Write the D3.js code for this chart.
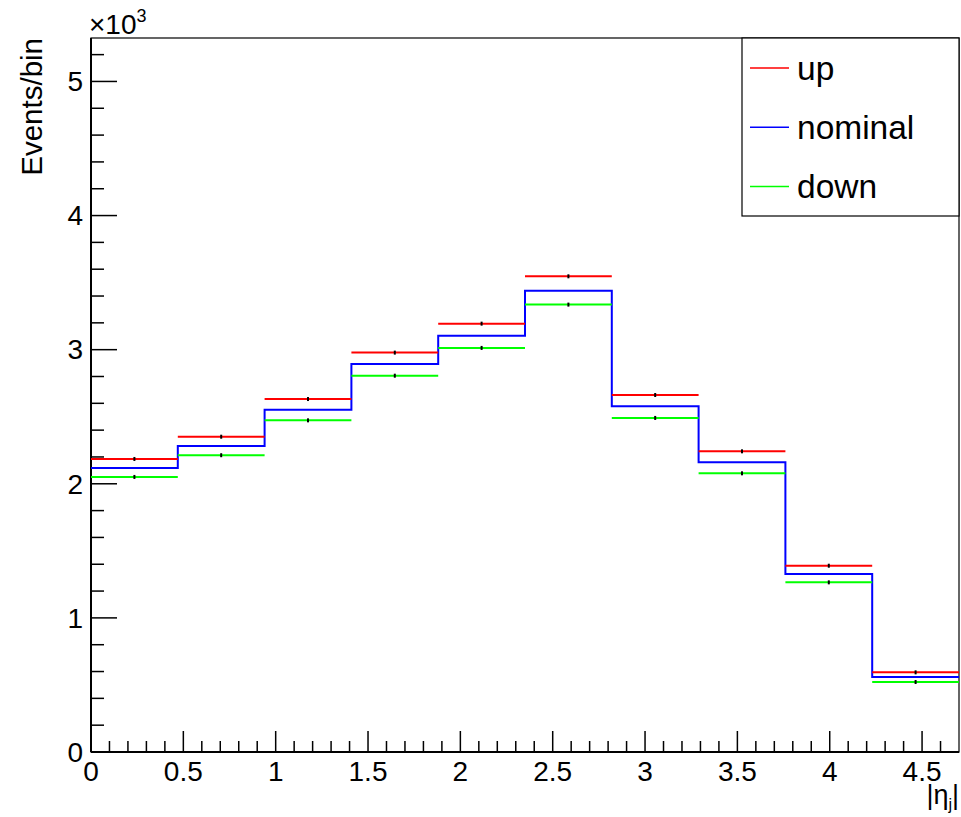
<!DOCTYPE html>
<html>
<head>
<meta charset="utf-8">
<script src="https://cdn.jsdelivr.net/npm/d3@7"></script>
<style>
  body { margin: 0; background: #fff; }
  svg { display: block; font-family: "Liberation Sans", Arial, Helvetica, sans-serif; }
</style>
</head>
<body>
<div id="graf"></div>
<script>
// bordes de los bins en |eta_j|
const binEdges = [0, 0.47, 0.94, 1.41, 1.88, 2.35, 2.82, 3.29, 3.76, 4.23, 4.7];
// eventos por bin
const upValues      = [2185, 2351, 2632, 2978, 3194, 3547, 2662, 2242, 1389, 594];
const nominalValues = [2118, 2282, 2552, 2893, 3104, 3440, 2578, 2160, 1327, 559];
const downValues    = [2051, 2213, 2473, 2806, 3013, 3336, 2491, 2078, 1265, 522];
// ticks
const xTicks = [0, 0.5, 1, 1.5, 2, 2.5, 3, 3.5, 4, 4.5];
const yTicks = [0, 1000, 2000, 3000, 4000, 5000];
const legendNames = ["up", "nominal", "down"];
const legendColors = ["#ff0000", "#0000ff", "#00ff00"];

const W = 961, H = 817;
const margins = { left: 91, top: 38, right: 2, bottom: 65 };
const ancho = W - margins.left - margins.right;
const alto = H - margins.top - margins.bottom;

const x = d3.scaleLinear().domain([0, 4.7]).range([0, ancho]);
const y = d3.scaleLinear().domain([0, 5324]).range([alto, 0]);

const svg = d3.select("#graf").append("svg").attr("width", W).attr("height", H);
const g = svg.append("g").attr("transform", `translate(${margins.left},${margins.top})`);

// marco
g.append("rect").attr("x", 0).attr("y", 0).attr("width", ancho).attr("height", alto)
  .attr("fill", "none").attr("stroke", "#000").attr("stroke-width", 1.2);

// ticks menores y mayores (hacia dentro, estilo ROOT)
const xMinor = d3.range(0, 47).map(i => i / 10);
g.selectAll(".xminor").data(xMinor).enter().append("line")
  .attr("x1", d => x(d)).attr("x2", d => x(d))
  .attr("y1", alto).attr("y2", d => (Math.round(d * 10) % 5 === 0) ? alto - 21 : alto - 11)
  .attr("stroke", "#000").attr("stroke-width", 1.5);
const yMinor = d3.range(0, 27).map(i => i * 200);
g.selectAll(".yminor").data(yMinor).enter().append("line")
  .attr("y1", d => y(d)).attr("y2", d => y(d))
  .attr("x1", 0).attr("x2", d => (d % 1000 === 0) ? 26 : 13)
  .attr("stroke", "#000").attr("stroke-width", 1.5);

// etiquetas de los ejes
g.selectAll(".xlab").data(xTicks).enter().append("text")
  .attr("x", d => x(d)).attr("y", alto + 29)
  .attr("text-anchor", "middle").attr("font-size", 28).text(d => d3.format("")(d));
g.selectAll(".ylab").data(yTicks).enter().append("text")
  .attr("x", -8).attr("y", d => y(d)).attr("dy", "0.35em")
  .attr("text-anchor", "end").attr("font-size", 28).text(d => d / 1000);

// ejes gruesos
g.append("line").attr("x1", 0).attr("x2", 0).attr("y1", 0).attr("y2", alto).attr("stroke", "#000").attr("stroke-width", 2);
g.append("line").attr("x1", 0).attr("x2", ancho).attr("y1", alto).attr("y2", alto).attr("stroke", "#000").attr("stroke-width", 2);

// x10^3
const mult = svg.append("text").attr("x", 89).attr("y", 34).attr("font-size", 28);
mult.append("tspan").text("\u00d710");
mult.append("tspan").attr("font-size", 18).attr("dy", -12).text("3");

// títulos de ejes
svg.append("text").attr("transform", "translate(42,38) rotate(-90)")
  .attr("text-anchor", "end").attr("font-size", 29.5).text("Events/bin");
const xt = svg.append("text").attr("x", 959).attr("y", 804).attr("text-anchor", "end").attr("font-size", 27);
xt.append("tspan").text("|\u03b7");
xt.append("tspan").attr("font-size", 16).attr("dy", 6).text("j");
xt.append("tspan").attr("dy", -6).text("|");

// histograma nominal (escalones, sin bordes laterales)
const stepPts = [];
nominalValues.forEach((v, i) => {
  stepPts.push([x(binEdges[i]), y(v)]);
  stepPts.push([x(binEdges[i + 1]), y(v)]);
});
g.append("path")
  .attr("d", d3.line()(stepPts))
  .attr("fill", "none").attr("stroke", "#0000ff").attr("stroke-width", 2);

// up / down como segmentos horizontales con marcador
const drawSegs = (vals, color) => {
  const gg = g.append("g");
  gg.selectAll("line").data(vals).enter().append("line")
    .attr("x1", (d, i) => x(binEdges[i])).attr("x2", (d, i) => x(binEdges[i + 1]))
    .attr("y1", d => y(d)).attr("y2", d => y(d))
    .attr("stroke", color).attr("stroke-width", 2);
  gg.selectAll("rect").data(vals).enter().append("rect")
    .attr("x", (d, i) => x((binEdges[i] + binEdges[i + 1]) / 2) - 1)
    .attr("y", d => y(d) - 2).attr("width", 2).attr("height", 4)
    .attr("fill", "#000");
};
drawSegs(upValues, "#ff0000");
drawSegs(downValues, "#00ff00");

// leyenda
const leg = svg.append("g").attr("transform", "translate(742,38)");
leg.append("rect").attr("x", 0).attr("y", 0).attr("width", 217).attr("height", 178)
  .attr("fill", "#fff").attr("stroke", "#000").attr("stroke-width", 1.2);
legendNames.forEach((n, i) => {
  const yy = 30 + i * 59.3;
  leg.append("line").attr("x1", 8).attr("x2", 47).attr("y1", yy).attr("y2", yy)
    .attr("stroke", legendColors[i]).attr("stroke-width", 1.5);
  leg.append("text").attr("x", 55).attr("y", yy).attr("dy", "0.35em")
    .attr("font-size", 33.5).text(n);
});
</script>
</body>
</html>
